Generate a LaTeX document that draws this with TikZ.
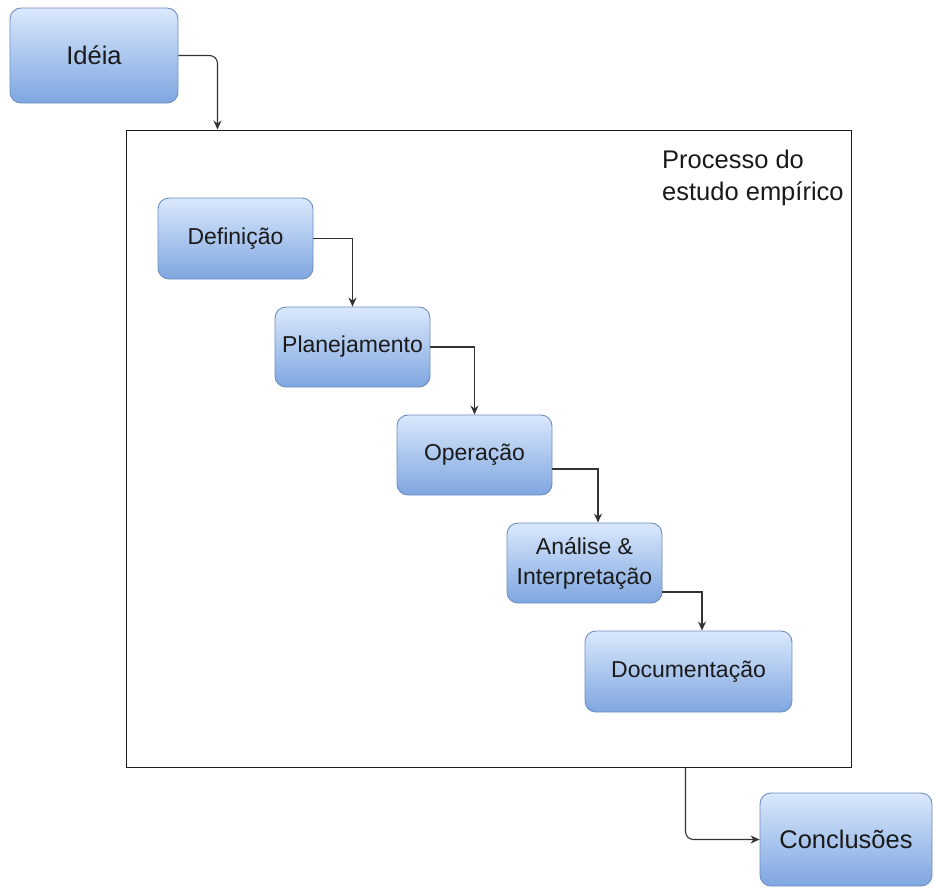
\documentclass[tikz,border=0pt]{standalone}
\usepackage{fontspec}
\setmainfont{Liberation Sans}
\usetikzlibrary{arrows.meta}
\definecolor{boxtop}{HTML}{DAE8FC}
\definecolor{boxbot}{HTML}{7EA6E0}
\definecolor{boxline}{HTML}{6C8EBF}
\definecolor{ink}{HTML}{1A1A1A}
\definecolor{wire}{HTML}{333333}
\tikzset{
  stepbox/.style={draw=boxline, line width=0.9pt, rounded corners=11pt,
    top color=boxtop, bottom color=boxbot, text=ink, inner sep=0pt,
    align=center, font=\fontsize{23}{30}\selectfont},
  bigbox/.style={stepbox, font=\fontsize{25.5}{31}\selectfont},
  arr/.style={draw=wire, line width=1.1pt, -{Stealth[length=9pt,width=8pt]}},
}
\begin{document}
\begin{tikzpicture}[x=1pt,y=-1pt]
\useasboundingbox (0,0) rectangle (934,887);
% container
\node[draw=ink, line width=1pt, minimum width=725pt, minimum height=637pt, inner sep=0pt]
  (proc) at (488.5,448.5) {};
\node[anchor=north west, inner sep=0pt, align=left, text=ink,
  font=\fontsize{25.5}{32}\selectfont] (ptitle) at (662,149.5)
  {Processo do\\estudo empírico};
% nodes
\node[bigbox, minimum width=168pt, minimum height=95pt] (idea) at (94,55.5) {Idéia};
\node[stepbox, minimum width=155pt, minimum height=81pt] (defn) at (235.5,238.5) {Definição};
\node[stepbox, minimum width=155pt, minimum height=80pt] (plan) at (352.5,347) {Planejamento};
\node[stepbox, minimum width=155pt, minimum height=80pt] (oper) at (474.5,455) {Operação};
\node[stepbox, minimum width=155pt, minimum height=80pt] (anal) at (584.5,563) {Análise \&\\Interpretação};
\node[stepbox, minimum width=207pt, minimum height=81pt] (docu) at (688.5,671.5) {Documentação};
\node[bigbox, minimum width=172pt, minimum height=93pt] (concl) at (846,839.5) {Conclusões};
% connectors
\draw[arr, rounded corners=8pt] (idea.east) -| ([xshift=92pt]proc.north west);
\draw[arr] (defn.east) -| (plan.north);
\draw[arr] (plan.east) -| (oper.north);
\draw[arr] ([yshift=-14pt]oper.east) -| ([xshift=13.5pt]anal.north);
\draw[arr] ([yshift=-29pt]anal.east) -| ([xshift=13.5pt]docu.north);
\draw[arr, rounded corners=8pt] ([xshift=560pt]proc.south west) |- (concl.west);
\end{tikzpicture}
\end{document}
